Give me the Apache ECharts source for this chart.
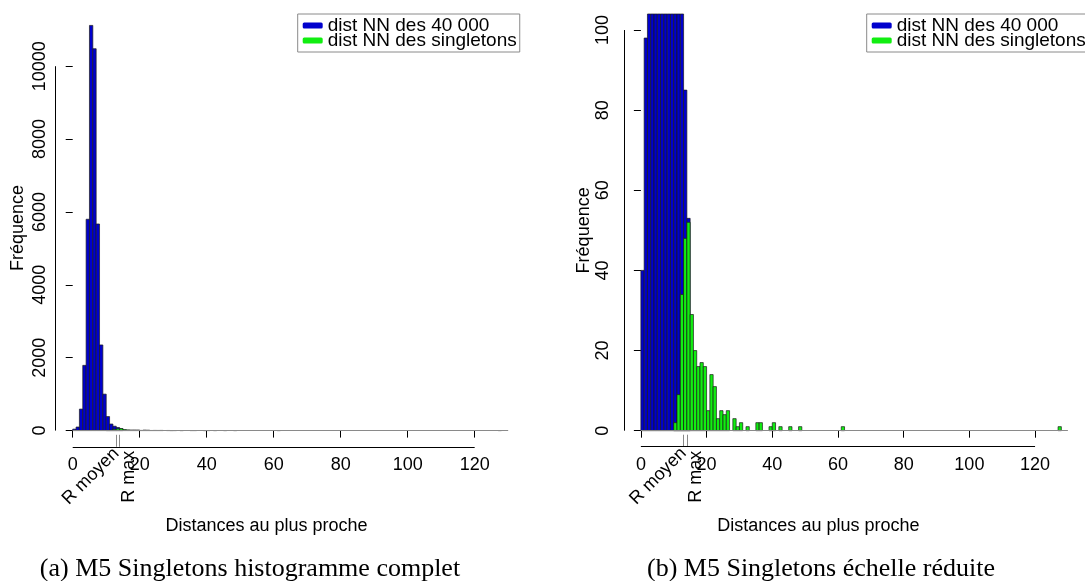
<!DOCTYPE html>
<html>
<head>
<meta charset="utf-8">
<script src="https://cdn.jsdelivr.net/npm/echarts@6/dist/echarts.min.js"></script>
<style>
html,body{margin:0;padding:0;background:#fff;}
#chart{width:1085px;height:581px;}
</style>
</head>
<body>
<div id="chart"></div>
<script>
// ---- data ----
const seriesNames = ['dist NN des 40 000', 'dist NN des singletons'];
const binWidth = 1;
const histRange = [0, 130];
const blueBinStarts = [0, 1, 2, 3, 4, 5, 6, 7, 8, 9, 10, 11, 12, 13, 14];
const blueCounts = [40, 98, 590, 1790, 5800, 11120, 10480, 5670, 2350, 1000, 385, 180, 120, 85, 53];
const greenBinStarts = [10, 11, 12, 13, 14, 15, 16, 17, 18, 19, 20, 21, 22, 23, 24, 25, 26, 28, 29, 30, 32, 35, 36, 39, 40, 42, 45, 48, 61, 127];
const greenCounts = [2, 9, 34, 48, 52, 29, 20, 16, 17, 16, 5, 14, 11, 3, 5, 4, 5, 3, 1, 2, 1, 2, 2, 1, 2, 1, 1, 1, 1, 1];
const xTicks = [0, 20, 40, 60, 80, 100, 120];
const yTicksA = [0, 2000, 4000, 6000, 8000, 10000];
const yTicksB = [0, 20, 40, 60, 80, 100];
const yLimB = [0, 100];
const rMoyen = 13;
const rMax = 14;
const xTitle = 'Distances au plus proche';
const yTitle = 'Fréquence';
const captionA = '(a) M5 Singletons histogramme complet';
const captionB = '(b) M5 Singletons échelle réduite';

// ---- build ----
const FONT = 'Liberation Sans';
const FS = 18;
const blueColor = '#0000cd';
const greenColor = '#11ee11';

function histData(starts, counts) {
  return starts.map((s, i) => [s, s + binWidth, counts[i]]);
}
const pad = 0.04 * (histRange[1] - histRange[0]);
const xMin = histRange[0] - pad, xMax = histRange[1] + pad;
const yLimA = [0, Math.max(...blueCounts)];
function ext(lim) { const p = 0.04 * (lim[1] - lim[0]); return [lim[0] - p, lim[1] + p]; }
const yA = ext(yLimA), yB = ext(yLimB);

function renderHist(params, api) {
  const x0 = api.value(0), x1 = api.value(1), v = api.value(2);
  const p0 = api.coord([x0, 0]);
  const p1 = api.coord([x1, v]);
  const cs = params.coordSys;
  const r = echarts.graphic.clipRectByRect(
    {x: p0[0], y: p1[1], width: p1[0] - p0[0], height: p0[1] - p1[1]},
    {x: cs.x, y: cs.y, width: cs.width, height: cs.height});
  if (!r) return null;
  return {type: 'rect', shape: r, style: {fill: api.visual('color'), stroke: '#1b1b1b', lineWidth: 0.7}};
}

function mainX(gridIndex, shift) {
  return {
    type: 'value', gridIndex, position: 'bottom', offset: 0, min: xMin, max: xMax,
    axisLine: {show: false}, splitLine: {show: false},
    axisTick: {show: true, customValues: xTicks, length: 7, lineStyle: {color: '#000'}},
    axisLabel: {show: true, customValues: xTicks, color: '#000', fontFamily: FONT, fontSize: FS, margin: 9},
    name: xTitle, nameLocation: 'middle', nameGap: 70,
    nameTextStyle: {color: '#000', fontFamily: FONT, fontSize: FS, padding: [0, shift, 0, 0]}
  };
}
function markX(gridIndex, value, label, rotate, vAlign) {
  const lab = {show: true, customValues: [value], formatter: () => label, rotate, margin: 4,
      color: '#000', fontFamily: FONT, fontSize: FS};
  if (vAlign) lab.verticalAlign = vAlign;
  return {
    type: 'value', gridIndex, position: 'bottom', offset: 0, min: xMin, max: xMax,
    axisLine: {show: false}, splitLine: {show: false},
    axisTick: {show: true, inside: true, customValues: [value], length: 12, lineStyle: {color: '#888'}},
    axisLabel: lab
  };
}
function mainY(gridIndex, lim, ticks, margin, gap) {
  return {
    type: 'value', gridIndex, min: lim[0], max: lim[1],
    axisLine: {show: false}, splitLine: {show: false},
    axisTick: {show: true, customValues: ticks, length: 7, lineStyle: {color: '#000'}},
    axisLabel: {show: true, customValues: ticks, rotate: 90, margin, color: '#000', fontFamily: FONT, fontSize: FS,
      formatter: v => String(Math.round(v))},
    name: yTitle, nameLocation: 'middle', nameGap: gap,
    nameTextStyle: {color: '#000', fontFamily: FONT, fontSize: FS}
  };
}
function axesLines(yLo, ticksY) {
  return {
    silent: true, symbol: 'none', animation: false, label: {show: false},
    lineStyle: {color: '#000', width: 1, type: 'solid'},
    data: [
      [{coord: [histRange[0], 0], lineStyle: {color: '#8a8a8a'}}, {coord: [histRange[1], 0]}],
      [{coord: [xTicks[0], yLo]}, {coord: [xTicks[xTicks.length - 1], yLo]}],
      [{coord: [xMin, ticksY[0]]}, {coord: [xMin, ticksY[ticksY.length - 1]]}]
    ]
  };
}
function histSeries(name, color, data, xi, yi, ml) {
  const s = {
    type: 'custom', name, renderItem: renderHist, data,
    xAxisIndex: xi, yAxisIndex: yi, encode: {x: [0, 1], y: 2},
    itemStyle: {color}, animation: false, silent: true
  };
  if (ml) s.markLine = ml;
  return s;
}
function legendAt(left, padRight) {
  return {
    left, top: 14, orient: 'vertical', data: seriesNames,
    icon: 'roundRect', itemWidth: 20, itemHeight: 6, itemGap: -4,
    padding: [2, padRight, 2, 5], borderColor: '#8a8a8a', borderWidth: 1,
    textStyle: {color: '#000', fontFamily: FONT, fontSize: 19},
    selectedMode: false
  };
}

const chart = echarts.init(document.getElementById('chart'), null, {renderer: 'canvas'});
chart.setOption({
  backgroundColor: '#fff',
  animation: false,
  title: [
    {text: captionA, left: 245, top: 551, textAlign: 'center',
     textStyle: {fontFamily: 'Liberation Serif', fontSize: 26, fontWeight: 'normal', color: '#000'}},
    {text: captionB, left: 816, top: 551, textAlign: 'center',
     textStyle: {fontFamily: 'Liberation Serif', fontSize: 26, fontWeight: 'normal', color: '#000'}}
  ],
  legend: [legendAt(297.7, 3), legendAt(866.7, 14)],
  grid: [
    {left: 55.3, top: 9.2, width: 470.3, height: 437.6},
    {left: 623.8, top: 14, width: 464, height: 432.7}
  ],
  xAxis: [
    mainX(0, 48), markX(0, rMoyen, 'R moyen', 45), markX(0, rMax, 'R max', 90, 'top'),
    mainX(1, 72), markX(1, rMoyen, 'R moyen', 45), markX(1, rMax, 'R max', 90, 'top')
  ],
  yAxis: [mainY(0, yA, yTicksA, 6, 28), mainY(1, yB, yTicksB, 12, 26)],
  series: [
    histSeries(seriesNames[0], blueColor, histData(blueBinStarts, blueCounts), 0, 0, axesLines(yA[0], yTicksA)),
    histSeries(seriesNames[1], greenColor, histData(greenBinStarts, greenCounts), 0, 0),
    histSeries(seriesNames[0], blueColor, histData(blueBinStarts, blueCounts), 3, 1, axesLines(yB[0], yTicksB)),
    histSeries(seriesNames[1], greenColor, histData(greenBinStarts, greenCounts), 3, 1)
  ]
});
</script>
</body>
</html>
